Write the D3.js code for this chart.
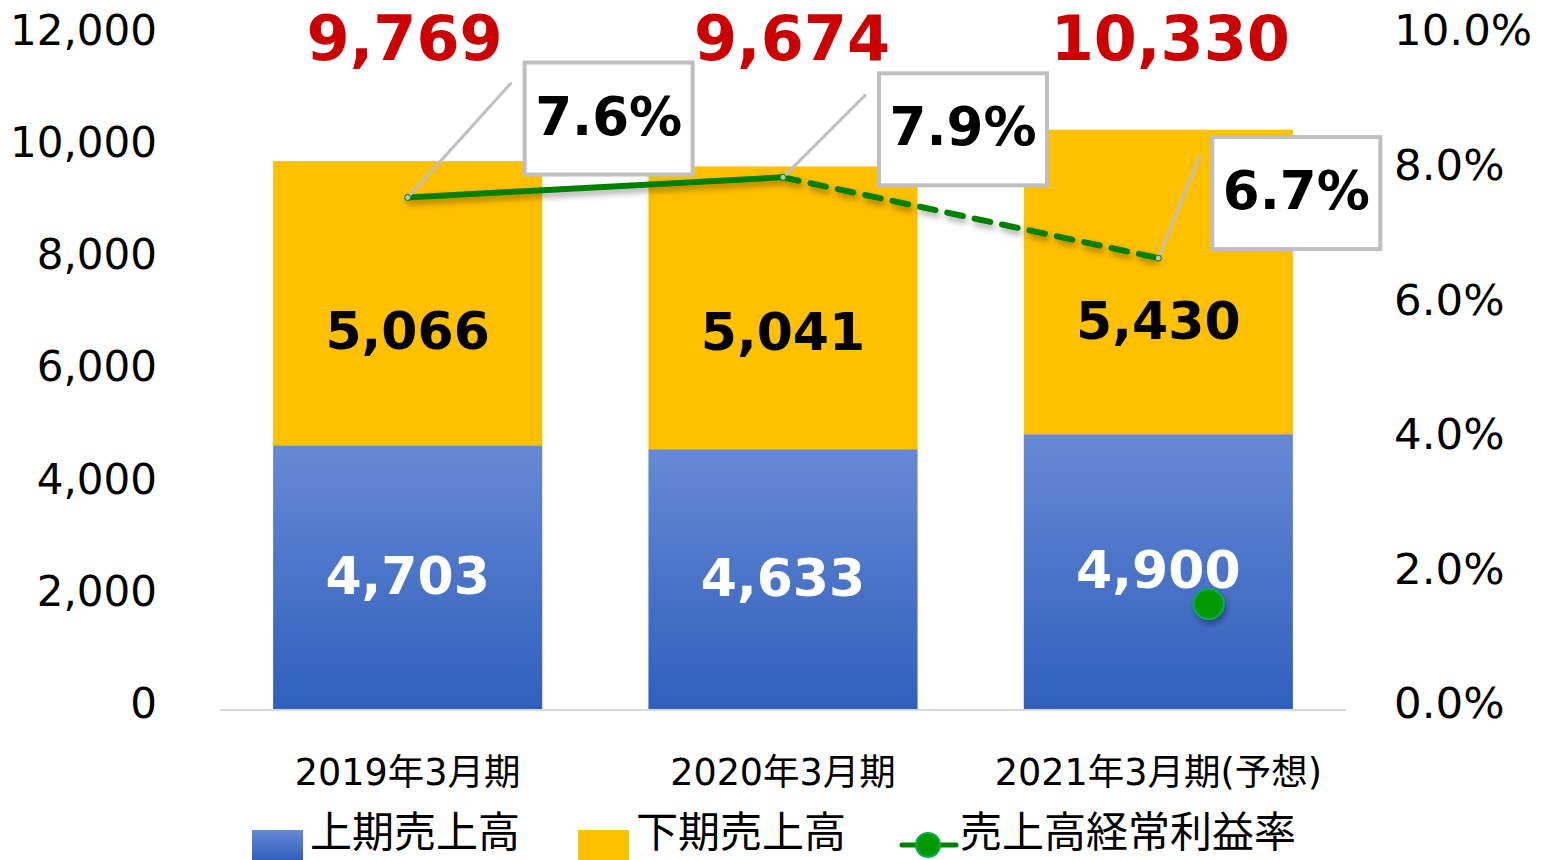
<!DOCTYPE html>
<html>
<head>
<meta charset="utf-8">
<script src="https://cdn.jsdelivr.net/npm/d3@7"></script>
<style>
  body { margin: 0; background: #fff; }
  svg { display: block; }
  text { font-family: "DejaVu Sans", "Noto Sans CJK JP", sans-serif; }
</style>
</head>
<body>
<svg id="chart" width="1543" height="860"></svg>
<script>
// data
const categories = ["2019年3月期", "2020年3月期", "2021年3月期(予想)"];
const firstHalf = [4703, 4633, 4900];
const secondHalf = [5066, 5041, 5430];
const totals = [9769, 9674, 10330];
const marginRate = [7.6, 7.9, 6.7];
const leftTicks = [0, 2000, 4000, 6000, 8000, 10000, 12000];
const rightTicks = [0, 2, 4, 6, 8, 10];
const legendNames = ["上期売上高", "下期売上高", "売上高経常利益率"];

const width = 1543, height = 860;
const plot = { left: 220, right: 1346, top: 36, bottom: 709 };

const svg = d3.select("#chart");
const defs = svg.append("defs");

const grad = defs.append("linearGradient")
    .attr("id", "blueGrad")
    .attr("x1", 0).attr("y1", 0).attr("x2", 0).attr("y2", 1);
grad.append("stop").attr("offset", "0%").attr("stop-color", "#6689d4");
grad.append("stop").attr("offset", "100%").attr("stop-color", "#2f5fbd");

const shadow = defs.append("filter").attr("id", "shadow")
    .attr("x", "-20%").attr("y", "-50%").attr("width", "140%").attr("height", "200%");
shadow.append("feDropShadow")
    .attr("dx", 2).attr("dy", 4).attr("stdDeviation", 3)
    .attr("flood-color", "#000").attr("flood-opacity", 0.35);

// scales
const x = d3.scaleBand()
    .domain(categories)
    .range([plot.left, plot.right])
    .paddingInner(0.283)
    .paddingOuter(0.1415);
const y = d3.scaleLinear().domain([0, 12000]).range([plot.bottom, plot.top]);
const yR = d3.scaleLinear().domain([0, 10]).range([plot.bottom, plot.top]);

// axes (text only)
const leftAxis = d3.axisLeft(y).tickValues(leftTicks)
    .tickFormat(d3.format(",")).tickSize(0).tickPadding(0);
svg.append("g")
    .attr("transform", "translate(157,-5)")
    .call(leftAxis)
    .call(g => g.select(".domain").remove())
    .selectAll("text")
    .attr("font-size", 42).attr("fill", "#000")
    .attr("font-family", "DejaVu Sans");

const rightAxis = d3.axisRight(yR).tickValues(rightTicks)
    .tickFormat(d => d.toFixed(1) + "%").tickSize(0).tickPadding(0);
svg.append("g")
    .attr("transform", "translate(1394,-5)")
    .call(rightAxis)
    .call(g => g.select(".domain").remove())
    .selectAll("text")
    .attr("font-size", 43.5).attr("fill", "#000")
    .attr("font-family", "DejaVu Sans");

// bars
const rows = categories.map((c, i) => ({
    cat: c, a: firstHalf[i], b: secondHalf[i], total: totals[i], rate: marginRate[i]
}));

const bars = svg.append("g");
bars.selectAll("rect.lower")
    .data(rows).join("rect")
    .attr("class", "lower")
    .attr("x", d => x(d.cat))
    .attr("width", x.bandwidth())
    .attr("y", d => y(d.a))
    .attr("height", d => y(0) - y(d.a))
    .attr("fill", "url(#blueGrad)");

bars.selectAll("rect.upper")
    .data(rows).join("rect")
    .attr("class", "upper")
    .attr("x", d => x(d.cat))
    .attr("width", x.bandwidth())
    .attr("y", d => y(d.a + d.b))
    .attr("height", d => y(d.a) - y(d.a + d.b))
    .attr("fill", "#ffc000");

// baseline
svg.append("line")
    .attr("x1", plot.left).attr("x2", plot.right)
    .attr("y1", y(0) + 1).attr("y2", y(0) + 1)
    .attr("stroke", "#d9d9d9").attr("stroke-width", 2);

// segment labels
const cx = d => x(d.cat) + x.bandwidth() / 2;
svg.append("g").selectAll("text")
    .data(rows).join("text")
    .attr("x", cx)
    .attr("y", d => (y(0) + y(d.a)) / 2 - 2)
    .attr("dy", "0.36em")
    .attr("text-anchor", "middle")
    .attr("font-size", 52).attr("font-weight", "bold")
    .attr("fill", "#fff")
    .text(d => d3.format(",")(d.a));

const upperShift = [27, 23, 38];
svg.append("g").selectAll("text")
    .data(rows).join("text")
    .attr("x", cx)
    .attr("y", (d, i) => (y(d.a) + y(d.a + d.b)) / 2 + upperShift[i])
    .attr("dy", "0.36em")
    .attr("text-anchor", "middle")
    .attr("font-size", 52).attr("font-weight", "bold")
    .attr("fill", "#000")
    .text(d => d3.format(",")(d.b));

// totals
const totalShift = [-3, 9, 12];
svg.append("g").selectAll("text")
    .data(rows).join("text")
    .attr("x", (d, i) => cx(d) + totalShift[i])
    .attr("y", 60)
    .attr("text-anchor", "middle")
    .attr("font-size", 62).attr("font-weight", "bold")
    .attr("fill", "#cc0000")
    .text(d => d3.format(",")(d.total));

// rate line
const pts = rows.map(d => [cx(d), yR(d.rate)]);
const lineGen = d3.line();
const lineG = svg.append("g").attr("filter", "url(#shadow)");
lineG.append("path")
    .attr("d", lineGen(pts.slice(0, 2)))
    .attr("fill", "none").attr("stroke", "#008000")
    .attr("stroke-width", 6).attr("stroke-linecap", "round");
lineG.append("path")
    .attr("d", lineGen(pts.slice(1)))
    .attr("fill", "none").attr("stroke", "#008000")
    .attr("stroke-width", 6).attr("stroke-linecap", "round")
    .attr("stroke-dasharray", "16,12");

// callouts: box offsets relative to the point
const boxes = [
    { dx: 117, dy: -135, ax: 103, ay: -114 },
    { dx: 96, dy: -104, ax: 82, ay: -82 },
    { dx: 54, dy: -121, ax: 41, ay: -101 }
];
const boxW = 168, boxH = 112;
const callG = svg.append("g");
rows.forEach((d, i) => {
    const [px, py] = pts[i];
    const b = boxes[i];
    callG.append("line")
        .attr("x1", px).attr("y1", py)
        .attr("x2", px + b.ax).attr("y2", py + b.ay)
        .attr("stroke", "#bfbfbf").attr("stroke-width", 3)
        .attr("stroke-linecap", "round");
    callG.append("circle")
        .attr("cx", px).attr("cy", py).attr("r", 3)
        .attr("fill", "#bfbfbf").attr("stroke", "#008000").attr("stroke-width", 1);
    callG.append("rect")
        .attr("x", px + b.dx).attr("y", py + b.dy)
        .attr("width", boxW).attr("height", boxH)
        .attr("fill", "#fff").attr("stroke", "#bfbfbf").attr("stroke-width", 4);
    callG.append("text")
        .attr("x", px + b.dx + boxW / 2)
        .attr("y", py + b.dy + boxH / 2 - 3)
        .attr("dy", "0.36em")
        .attr("text-anchor", "middle")
        .attr("font-size", 53).attr("font-weight", "bold")
        .attr("fill", "#000")
        .text(d.rate.toFixed(1) + "%");
});

// stray marker sitting inside the third bar
svg.append("circle")
    .attr("cx", x(categories[2]) + x.bandwidth() * 0.687)
    .attr("cy", yR(1.56))
    .attr("r", 15)
    .attr("fill", "#009900").attr("stroke", "#00b050").attr("stroke-width", 2)
    .attr("filter", "url(#shadow)");

// x labels
svg.append("g").selectAll("text")
    .data(categories).join("text")
    .attr("x", d => x(d) + x.bandwidth() / 2)
    .attr("y", 785)
    .attr("text-anchor", "middle")
    .attr("font-size", 36.5).attr("fill", "#000")
    .text(d => d);

// legend
const leg = svg.append("g").attr("font-size", 42);
leg.append("rect").attr("x", 252).attr("y", 830).attr("width", 51).attr("height", 30)
    .attr("fill", "url(#blueGrad)");
leg.append("text").attr("x", 310).attr("y", 847).text(legendNames[0]);
leg.append("rect").attr("x", 578).attr("y", 830).attr("width", 51).attr("height", 30)
    .attr("fill", "#ffc000");
leg.append("text").attr("x", 636).attr("y", 847).text(legendNames[1]);
leg.append("line").attr("x1", 902).attr("x2", 956).attr("y1", 845).attr("y2", 845)
    .attr("stroke", "#008000").attr("stroke-width", 5).attr("stroke-linecap", "round");
leg.append("circle").attr("cx", 928).attr("cy", 845).attr("r", 12)
    .attr("fill", "#009900").attr("stroke", "#00b050").attr("stroke-width", 2);
leg.append("text").attr("x", 960).attr("y", 847).text(legendNames[2]);
</script>
</body>
</html>
